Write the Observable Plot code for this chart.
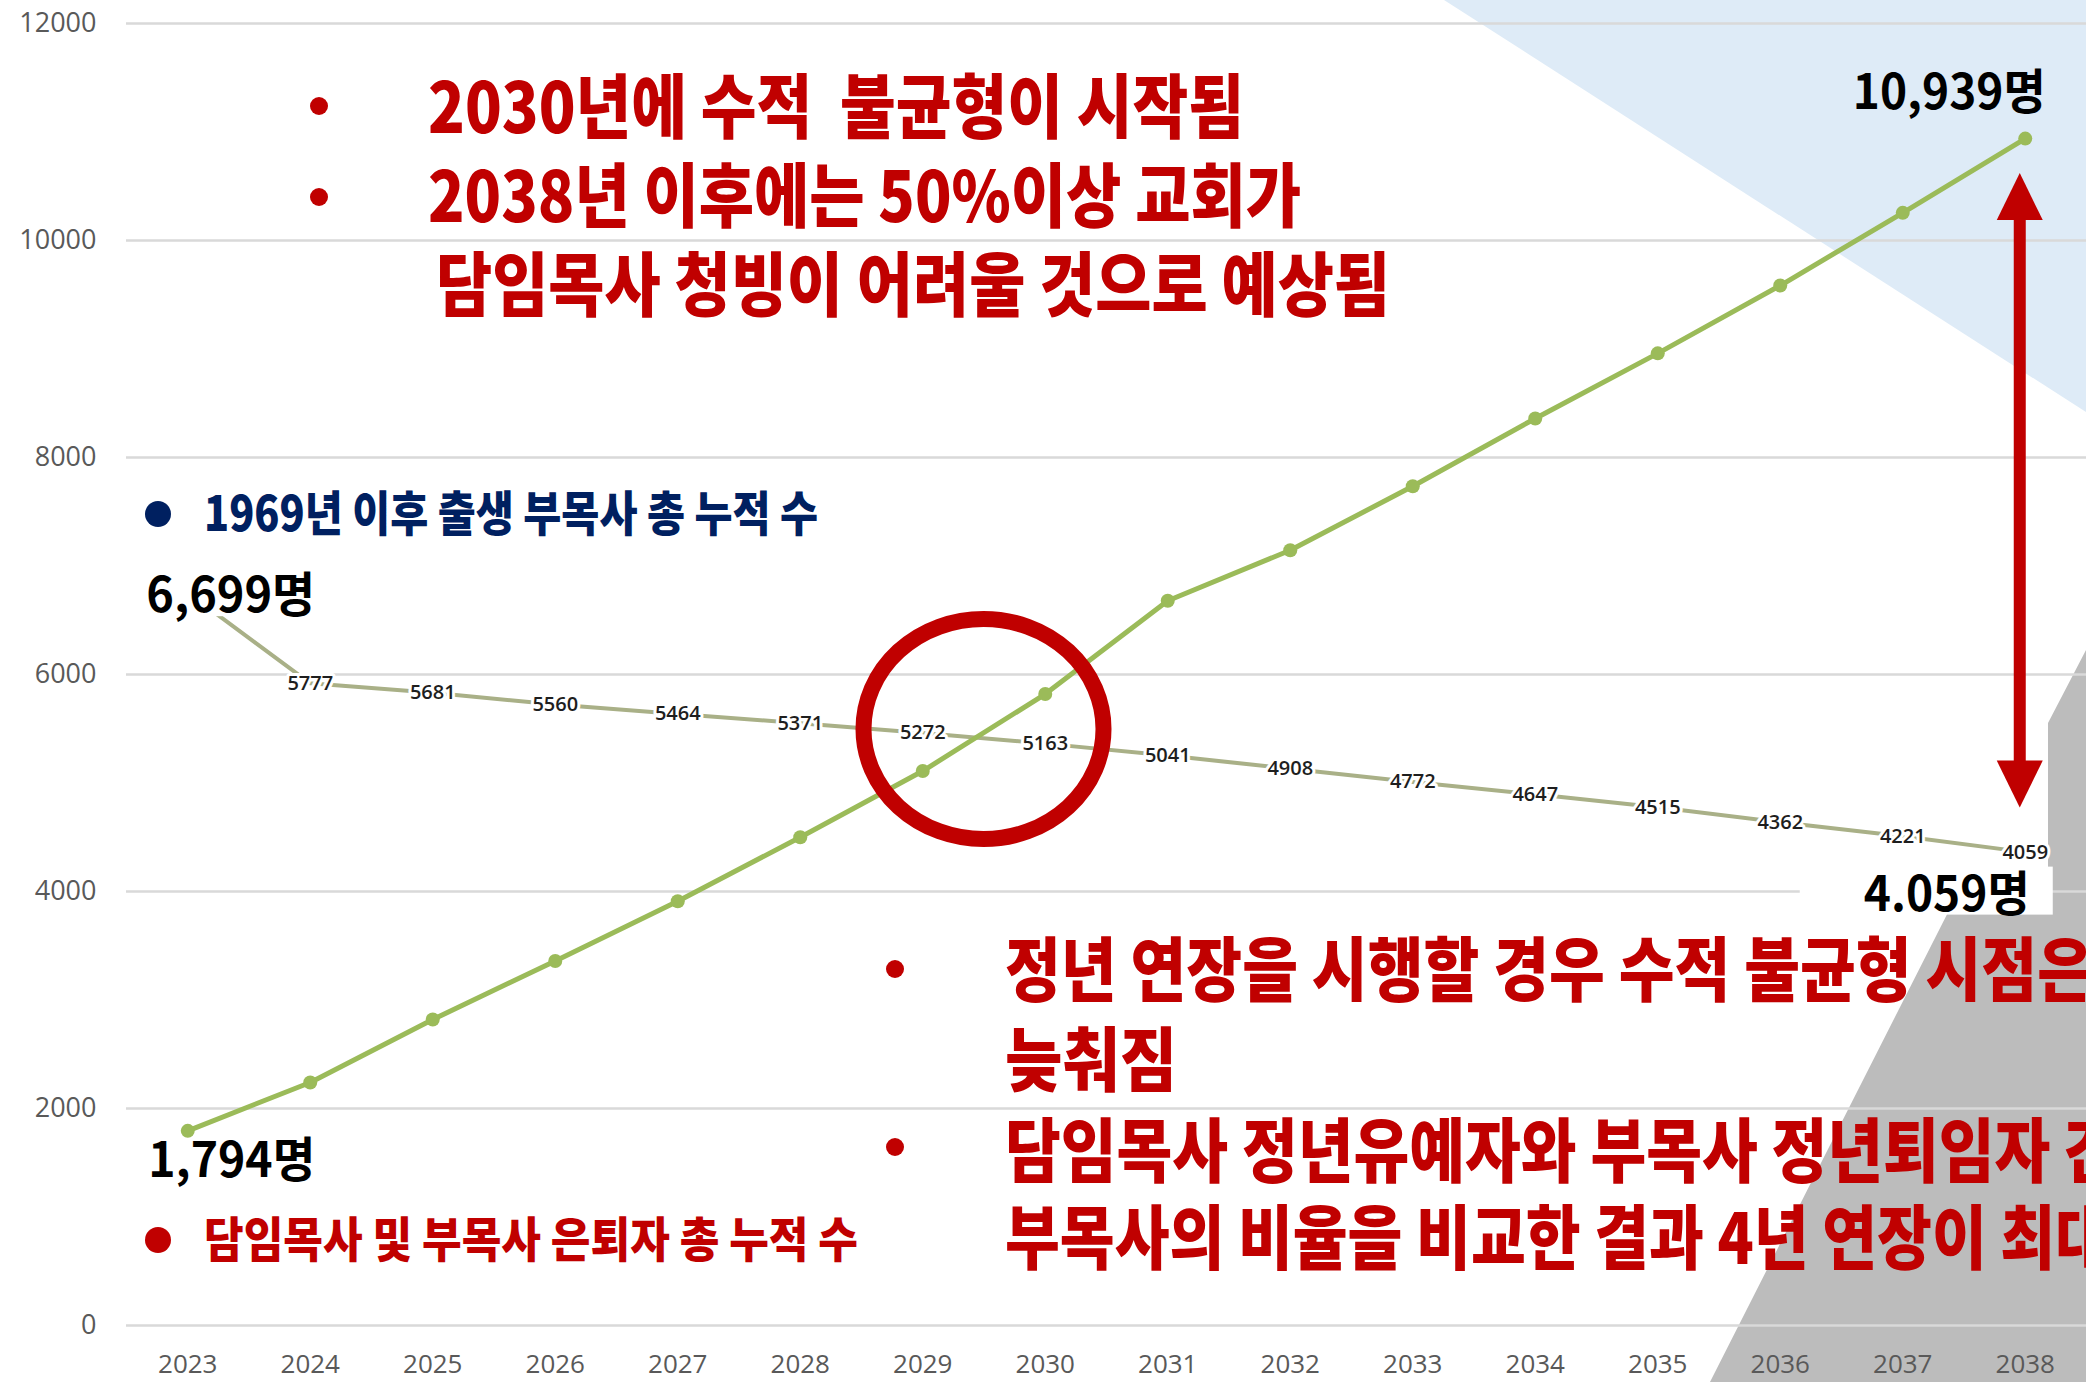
<!DOCTYPE html>
<html>
<head>
<meta charset="utf-8">
<script src="https://cdn.jsdelivr.net/npm/d3@7"></script>
<script src="https://cdn.jsdelivr.net/npm/@observablehq/plot@0.6"></script>
<style>
  html, body { margin: 0; padding: 0; background: #ffffff; overflow: hidden; }
  #chart svg { display: block; }
</style>
</head>
<body>
<div id="chart"></div>
<script>
// ---------------- data ----------------
const years = [2023, 2024, 2025, 2026, 2027, 2028, 2029, 2030, 2031, 2032, 2033, 2034, 2035, 2036, 2037, 2038];
// 담임목사 및 부목사 은퇴자 총 누적 수
const retirees = [1794, 2240, 2820, 3360, 3910, 4500, 5110, 5820, 6680, 7145, 7735, 8360, 8960, 9585, 10255, 10939];
// 1969년 이후 출생 부목사 총 누적 수 (drawn on its own, unlabelled secondary scale)
const assistants = [6699, 5777, 5681, 5560, 5464, 5371, 5272, 5163, 5041, 4908, 4772, 4647, 4515, 4362, 4221, 4059];
// secondary scale: assistant values -> primary axis values
const assistantDomain = [4059, 5777];
const assistantOnPrimary = [4363, 5919];
const yTicks = [0, 2000, 4000, 6000, 8000, 10000, 12000];

// ---------------- build ----------------
const W = 2086, H = 1382;
const red = "#C00000", navy = "#002060", green = "#9BBB59";
const korean = "'Noto Sans CJK KR', 'Noto Sans', sans-serif";

const toPrimary = d3.scaleLinear().domain(assistantDomain).range(assistantOnPrimary);
const retireRows = years.map((year, i) => ({year, value: retirees[i]}));
const assistRows = years.map((year, i) => ({year, label: assistants[i], value: toPrimary(assistants[i])}));

const chart = Plot.plot({
  width: W,
  height: H,
  marginLeft: 126,
  marginRight: 0,
  marginTop: 23,
  marginBottom: 57,
  style: {background: "transparent", fontFamily: "'Open Sans', sans-serif", fontSize: "26px", color: "#595959", overflow: "hidden"},
  x: {type: "linear", domain: [years[0] - 0.5, years[years.length - 1] + 0.5]},
  y: {domain: [0, 12000]},
  marks: [
    Plot.gridY(yTicks, {stroke: "#D9D9D9", strokeOpacity: 1, strokeWidth: 2.5}),
    Plot.axisY(yTicks, {tickSize: 0, tickPadding: 30, tickFormat: d => String(d), label: null, fill: "#595959", fontSize: 27}),
    Plot.axisX(years, {tickSize: 0, tickPadding: 29, tickFormat: d => String(d), label: null, fill: "#595959", fontSize: 26}),
    Plot.line(assistRows, {x: "year", y: "value", stroke: "#A9B087", strokeWidth: 4}),
    Plot.text(assistRows.slice(1), {x: "year", y: "value", text: d => String(d.label), fill: "#1e1e1e",
      stroke: "white", strokeWidth: 6, fontSize: 20, fontWeight: 600, fontFamily: "'Open Sans', sans-serif"}),
    Plot.line(retireRows, {x: "year", y: "value", stroke: green, strokeWidth: 5}),
    Plot.dot(retireRows, {x: "year", y: "value", r: 7, fill: green})
  ]
});
document.getElementById("chart").appendChild(chart);

// ---------------- slide decorations & annotations ----------------
const svg = d3.select(chart);
const sx = chart.scale("x"), sy = chart.scale("y");
const X = v => sx.apply(v), Y = v => sy.apply(v);

// background shapes (behind everything)
const bg = svg.insert("g", ":first-child");
bg.append("polygon").attr("points", [[1444, 0], [W, 0], [W, 412]].join(" ")).attr("fill", "#DEEBF7");
bg.append("polygon").attr("points", [[1710, H], [1971, 867], [2048, 867], [2048, 723], [W, 650], [W, H]].join(" ")).attr("fill", "#BCBCBC");

const fg = svg.append("g");

function label(g, o) {
  const t = g.append("text")
    .attr("x", o.x).attr("y", o.y)
    .attr("fill", o.fill || "#000")
    .attr("font-family", korean)
    .attr("font-weight", o.weight || 700)
    .attr("font-size", o.size)
    .attr("text-anchor", o.anchor || "start")
    .style("white-space", "pre")
    .text(o.text);
  if (o.len) t.attr("textLength", o.len).attr("lengthAdjust", "spacingAndGlyphs");
  return t;
}

// value call-outs anchored to the data points
const first = 0, last = years.length - 1;
const callouts = [
  {px: X(years[last]), py: Y(retirees[last]), text: "10,939명", dx: 21, dy: -29, anchor: "end", len: 193},
  {px: X(years[first]), py: Y(retirees[first]), text: "1,794명", dx: -39, dy: 47, anchor: "start", len: 167},
  {px: X(years[first]), py: Y(toPrimary(assistants[first])), text: "6,699명", dx: -41, dy: 20, anchor: "start", len: 169,
    box: [-47, -23, 181, 47]},
  {px: X(years[last]), py: Y(toPrimary(assistants[last])), text: "4.059명", dx: 5, dy: 59, anchor: "end", len: 166,
    box: [-225, 15, 253, 48]}
];
for (const c of callouts) {
  if (c.box) fg.append("rect").attr("x", c.px + c.box[0]).attr("y", c.py + c.box[1])
    .attr("width", c.box[2]).attr("height", c.box[3]).attr("fill", "#ffffff");
  label(fg, {x: c.px + c.dx, y: c.py + c.dy, text: c.text, size: 48, anchor: c.anchor, len: c.len, fill: "#000"});
}

// red ellipse around the crossing point
fg.append("ellipse")
  .attr("cx", X(2029.5)).attr("cy", Y(5493))
  .attr("rx", 120).attr("ry", 110)
  .attr("fill", "none").attr("stroke", red).attr("stroke-width", 16);

// double-headed arrow between the two end values
{
  const ax = X(years[last]) - 5;
  const top = Y(retirees[last]) + 35;
  const bot = Y(toPrimary(assistants[last])) - 44;
  const hw = 23, hl = 47, sw = 6;
  fg.append("rect").attr("x", ax - sw).attr("y", top + hl - 2).attr("width", sw * 2).attr("height", bot - top - 2 * hl + 4).attr("fill", red);
  fg.append("polygon").attr("points", [[ax, top], [ax - hw, top + hl], [ax + hw, top + hl]].join(" ")).attr("fill", red);
  fg.append("polygon").attr("points", [[ax, bot], [ax - hw, bot - hl], [ax + hw, bot - hl]].join(" ")).attr("fill", red);
}

// legend-like labels
fg.append("circle").attr("cx", 158).attr("cy", 514).attr("r", 13).attr("fill", navy);
label(fg, {x: 204, y: 531, text: "1969년 이후 출생 부목사 총 누적 수", size: 48, len: 614, fill: navy, weight: 900});
fg.append("circle").attr("cx", 158).attr("cy", 1240).attr("r", 13).attr("fill", red);
label(fg, {x: 204, y: 1257, text: "담임목사 및 부목사 은퇴자 총 누적 수", size: 48, len: 654, fill: red, weight: 900});

// big red notes
const bullets = [[319, 106], [319, 197], [895, 969], [895, 1147]];
for (const [bx, by] of bullets) fg.append("circle").attr("cx", bx).attr("cy", by).attr("r", 9).attr("fill", red);
const notes = [
  {x: 428, y: 133, text: "2030년에 수적  불균형이 시작됨", len: 816},
  {x: 428, y: 222, text: "2038년 이후에는 50%이상 교회가", len: 873},
  {x: 436, y: 311, text: "담임목사 청빙이 어려울 것으로 예상됨", len: 954},
  {x: 1005, y: 996, text: "정년 연장을 시행할 경우 수적 불균형 시점은", len: 1088},
  {x: 1005, y: 1086, text: "늦춰짐", len: 172},
  {x: 1005, y: 1177, text: "담임목사 정년유예자와 부목사 정년퇴임자 간", len: 1115},
  {x: 1005, y: 1264, text: "부목사의 비율을 비교한 결과 4년 연장이 최대", len: 1105}
];
for (const n of notes) label(fg, {...n, size: 70, fill: red, weight: 900});
</script>
</body>
</html>
